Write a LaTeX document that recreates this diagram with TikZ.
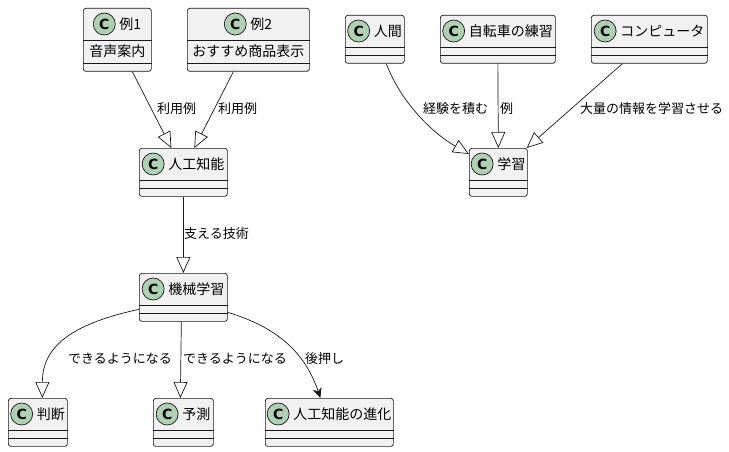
\documentclass[tikz,border=0pt]{standalone}
\usepackage{fontspec}
\setmainfont{Noto Sans CJK JP}
\newfontfamily\iconfont{DejaVu Sans}
\usetikzlibrary{math}
\usetikzlibrary{arrows.meta}
\definecolor{umlfill}{HTML}{F1F1F1}
\definecolor{umlline}{HTML}{181818}
\definecolor{umlicon}{HTML}{ADD1B2}
\tikzset{
	classbox/.style={draw=umlline, fill=umlfill, rounded corners=2.5pt, line width=0.7pt, inner sep=0pt},
	classtitle/.style={inner sep=0pt, font=\fontsize{14}{16}\selectfont},
	classicon/.style={circle, draw=umlline, fill=umlicon, line width=0.7pt, minimum size=22pt, inner sep=0pt, font=\iconfont\fontsize{14}{16}\selectfont\bfseries},
	classline/.style={draw=umlline, line width=0.7pt},
	edgelabel/.style={inner sep=0pt, anchor=west, font=\fontsize{13}{15}\selectfont},
	extends/.style={draw=umlline, line width=0.7pt, -{Triangle[length=16pt, width=14pt, fill=white]}},
	assoc/.style={draw=umlline, line width=0.7pt, -{Stealth[length=10pt, width=9pt, inset=3pt]}}
}
% class box: id, left, top, width, title
\newcommand{\umlclass}[5]{%
	\node[classbox, minimum width=#4pt, minimum height=48pt, anchor=north west] (#1) at (#2,#3) {};
	\node[classtitle] (#1-t) at ([xshift=13pt,yshift=-16pt]#1.north) {#5};
	\node[classicon] (#1-c) at ([xshift=-15pt]#1-t.west) {C};
	\draw[classline] ([yshift=-32pt]#1.north west) -- ([yshift=-32pt]#1.north east);
	\draw[classline] ([yshift=-40pt]#1.north west) -- ([yshift=-40pt]#1.north east);
}
% class box with one field: id, left, top, width, title, field
\newcommand{\umlclassfield}[6]{%
	\node[classbox, minimum width=#4pt, minimum height=63pt, anchor=north west] (#1) at (#2,#3) {};
	\node[classtitle] (#1-t) at ([xshift=13pt,yshift=-16pt]#1.north) {#5};
	\node[classicon] (#1-c) at ([xshift=-15pt]#1-t.west) {C};
	\node[classtitle] (#1-f) at ([yshift=-43.5pt]#1.north) {#6};
	\draw[classline] ([yshift=-32pt]#1.north west) -- ([yshift=-32pt]#1.north east);
	\draw[classline] ([yshift=-55pt]#1.north west) -- ([yshift=-55pt]#1.north east);
}

\begin{document}
\begin{tikzpicture}[x=1pt,y=-1pt]
	\useasboundingbox (0,0) rectangle (729,452);
	\tikzmath{\rowa=8; \rowb=15; \rowc=148; \rowd=273; \rowe=398;
	\lya=109; \lyb=234; \lyc=359;
	}
	% left part
	\umlclassfield{exone}{83}{\rowa}{68}{例1}{音声案内}
	\umlclassfield{extwo}{187}{\rowa}{122}{例2}{おすすめ商品表示}
	\umlclass{ai}{139}{\rowc}{88}{人工知能}
	\umlclass{ml}{139}{\rowd}{88}{機械学習}
	\umlclass{judge}{8}{\rowe}{59}{判断}
	\umlclass{predict}{153}{\rowe}{60}{予測}
	\umlclass{evo}{265}{\rowe}{128}{人工知能の進化}
	% right part
	\umlclass{human}{345}{\rowb}{59}{人間}
	\umlclass{bike}{440}{\rowb}{115}{自転車の練習}
	\umlclass{comp}{591}{\rowb}{116}{コンピュータ}
	\umlclass{learn}{469}{\rowc}{58}{学習}
	% edges
	\draw[extends] ([xshift=15pt]exone.south) -- ([xshift=-12pt]ai.north);
	\draw[extends] ([xshift=-15pt]extwo.south) -- ([xshift=11pt]ai.north);
	\draw[extends] (ai.south) -- (ml.north);
	\draw[extends] ([xshift=11.5pt]human.south) .. controls +(15,40) and +(-35,-20) .. ([yshift=-6pt]learn.north west);
	\draw[extends] (bike.south) -- (learn.north);
	\draw[extends] ([xshift=-27pt]comp.south) -- ([xshift=-1pt]learn.north east);
	\draw[extends] ([yshift=-12pt]ml.west) .. controls +(-70,15) and +(0,-50) .. ([xshift=4.5pt]judge.north);
	\draw[extends] ([xshift=-2pt]ml.south) -- ([xshift=-3pt]predict.north);
	\draw[assoc] ([yshift=-15pt]ml.east) .. controls +(50,15) and +(-15,-45) .. ([xshift=-9pt]evo.north);
	% labels
	\node[edgelabel] (la) at (157,\lya) {利用例};
	\node[edgelabel] (lb) at (218,\lya) {利用例};
	\node[edgelabel] (lc) at (184,\lyb) {支える技術};
	\node[edgelabel] (ld) at (423,\lya) {経験を積む};
	\node[edgelabel] (le) at (500,\lya) {例};
	\node[edgelabel] (lf) at (580,\lya) {大量の情報を学習させる};
	\node[edgelabel] (lg) at (68,\lyc) {できるようになる};
	\node[edgelabel] (lh) at (183,\lyc) {できるようになる};
	\node[edgelabel] (li) at (305,\lyc) {後押し};
\end{tikzpicture}
\end{document}
